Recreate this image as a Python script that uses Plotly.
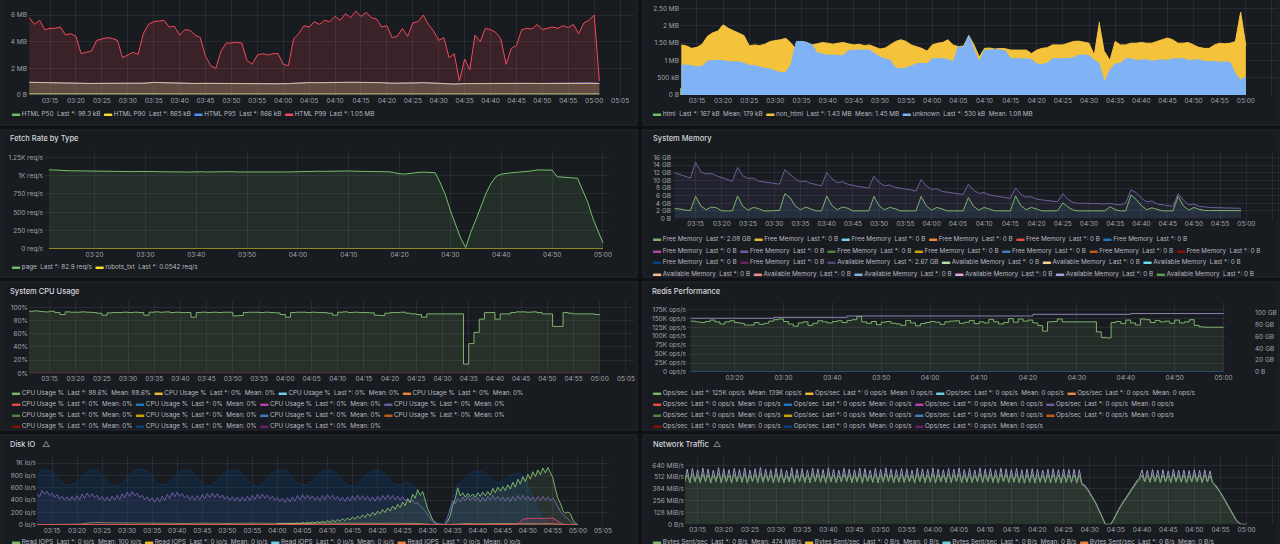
import numpy as np
import pandas as pd
import plotly.graph_objects as go

W, H = 1280, 544
DAY = "2024-05-14 "

BG_PAGE = "#111217"
BG_PANEL = "#181b1f"
BORDER = "rgba(204,204,220,0.10)"
GRID = "rgba(204,204,220,0.09)"
TICK = "#a3a4ac"
LEGEND_TXT = "#b8b9c1"
TITLE = "#d6d7de"
FONT = "Inter, 'Noto Sans', sans-serif"

CLASSIC = ["#7EB26D", "#EAB839", "#6ED0E0", "#EF843C", "#E24D42", "#1F78C1",
           "#BA43A9", "#705DA0", "#508642", "#CCA300", "#447EBC", "#C15C17",
           "#890F02", "#0A437C", "#6D1F62", "#584477", "#B7DBAB", "#F4D598",
           "#70DBED", "#F9BA8F", "#F29191", "#82B5D8", "#E5A8E2", "#AEA2E0",
           "#629E51"]

# ---------------- HTML size percentiles (MB) ----------------
html_p99 = [5.8, 5.3, 5.6, 4.9, 5.0, 5.0, 5.1, 4.5, 4.6, 4.4,
            3.1, 3.2, 3.3, 4.1, 4.2, 4.3, 4.25, 4.1, 2.8, 3.0,
            3.2, 3.05, 4.6, 5.3, 5.5, 5.55, 5.6, 5.1, 5.15, 4.5,
            4.9, 4.85, 4.5, 4.3, 2.9, 2.2, 2.0, 3.3, 3.9, 3.9,
            3.95, 3.9, 2.6, 2.3, 3.0, 3.1, 3.0, 3.1, 3.1, 2.3,
            2.2, 4.2, 4.6, 5.2, 5.1, 5.5, 5.3, 5.6, 5.5, 5.9,
            5.6, 6.1, 5.8, 6.3, 5.9, 6.2, 5.8, 5.7, 5.1, 5.2,
            4.3, 4.4, 5.0, 4.4, 5.4, 5.5, 6.0, 5.3, 4.8, 4.1,
            4.3, 2.8, 3.1, 1.05, 2.7, 1.9, 4.5, 4.0, 5.0, 4.9,
            4.7, 4.2, 2.3, 3.5, 3.7, 4.9, 5.0, 4.95, 5.3, 4.9,
            5.0, 5.1, 5.0, 5.2, 5.05, 5.3, 4.6, 5.4, 5.6, 6.0, 1.05]
html_p90 = [0.95, 0.93, 0.90, 0.88, 0.87, 0.87, 0.86, 0.87, 0.87, 0.86,
            0.87, 0.88, 0.94, 0.92, 0.87, 0.86, 0.86, 0.87, 0.86, 0.86,
            0.87, 0.85, 0.86, 0.86, 0.84, 0.85, 0.90, 0.93, 0.92, 0.94,
            0.95, 0.95, 0.94, 0.95, 0.92, 0.88, 0.87, 0.90, 0.92, 0.87,
            0.86, 0.82, 0.85, 0.86, 0.86, 0.87, 0.86, 0.86, 0.87, 0.86,
            0.87, 0.86, 0.86, 0.87, 0.90, 0.865]
html_p95 = [0.96, 0.94, 0.91, 0.89, 0.88, 0.87, 0.87, 0.88, 0.87, 0.87,
            0.88, 0.89, 0.95, 0.93, 0.88, 0.87, 0.87, 0.88, 0.87, 0.87,
            0.88, 0.86, 0.87, 0.87, 0.85, 0.86, 0.91, 0.94, 0.93, 0.95,
            0.96, 0.96, 0.95, 0.96, 0.93, 0.89, 0.88, 0.91, 0.93, 0.88,
            0.87, 0.83, 0.86, 0.87, 0.87, 0.88, 0.87, 0.87, 0.88, 0.87,
            0.88, 0.87, 0.87, 0.88, 0.91, 0.866]
html_p50 = [0.10, 0.102, 0.099, 0.101, 0.10, 0.098, 0.10, 0.101, 0.097, 0.099, 0.10, 0.098]

# ---------------- bytes by content type (MB) ----------------
bytes_non_html = [1.45, 1.42, 1.35, 1.38, 1.47, 1.7, 1.8, 1.85, 2.03, 1.93,
                  1.86, 1.8, 1.72, 1.42, 1.45, 1.43, 1.47, 1.55, 1.57, 1.6,
                  1.64, 1.5, 1.32, 1.55, 1.52, 1.45, 1.48, 1.52, 1.5, 1.47,
                  1.5, 1.52, 1.48, 1.45, 1.47, 1.43, 1.45, 1.38, 1.33, 1.36,
                  1.45, 1.55, 1.6, 1.55, 1.45, 1.4, 1.35, 1.27, 1.45, 1.5,
                  1.52, 1.6, 1.45, 1.4, 1.42, 1.72, 1.45, 1.1, 1.35, 1.36,
                  1.33, 1.35, 1.34, 1.3, 1.3, 1.28, 1.3, 1.2, 1.3, 1.35,
                  1.37, 1.45, 1.46, 1.45, 1.5, 1.55, 1.56, 1.52, 1.5, 1.15,
                  2.12, 1.25, 1.0, 1.55, 1.45, 1.45, 1.5, 1.5, 1.52, 1.5,
                  1.5, 1.55, 1.6, 1.65, 1.6, 1.5, 1.5, 1.52, 1.45, 1.38,
                  1.35, 1.35, 1.45, 1.5, 1.48, 1.5, 1.55, 2.4, 1.43]
bytes_unknown = [0.86, 0.87, 0.84, 0.82, 0.83, 0.98, 1.0, 0.99, 1.0, 0.96,
                 0.95, 0.96, 0.92, 0.86, 0.85, 0.8, 0.77, 0.75, 0.7, 0.64,
                 0.66, 0.88, 1.55, 1.55, 1.52, 1.45, 1.22, 1.18, 1.15, 1.16,
                 1.14, 1.15, 1.28, 1.3, 1.3, 1.28, 1.3, 1.2, 1.1, 1.05,
                 1.0, 0.78, 0.76, 0.78, 0.85, 0.9, 0.92, 0.9, 1.05, 1.06,
                 1.05, 1.03, 0.96, 1.4, 1.38, 1.72, 1.3, 0.96, 1.3, 1.3,
                 1.32, 1.3, 1.28, 1.05, 1.06, 1.04, 1.05, 1.03, 0.9, 0.88,
                 0.92, 1.05, 1.04, 1.06, 1.05, 1.08, 1.15, 1.16, 1.14, 1.0,
                 0.92, 0.38, 0.72, 0.9, 0.92, 1.05, 1.05, 1.0, 1.0, 1.02,
                 0.98, 1.0, 1.02, 1.0, 1.05, 1.04, 1.06, 1.0, 1.0, 1.02,
                 0.98, 0.96, 0.97, 0.95, 0.96, 0.94, 0.62, 0.43, 0.53]
bytes_html = [0.18, 0.18, 0.19, 0.18, 0.17, 0.18, 0.18, 0.17, 0.18, 0.17, 0.17, 0.167]
bytes_gap = "04:32:30"

# ---------------- fetch rate (req/s) ----------------
fetch_page = [1080, 1075, 1070, 1068, 1067, 1066, 1065, 1062, 1060, 1058,
              1055, 1052, 1050, 1051, 1048, 1050, 1052, 1055, 1058, 1054,
              1052, 1055, 1053, 1050, 1052, 1054, 1051, 1049, 1052, 1055,
              1053, 1050, 1052, 1051, 1049, 1052, 1054, 1051, 1050, 1052,
              1049, 1051, 1053, 1050, 1048, 1049, 1047, 1050, 1052, 1055,
              1058, 1060, 1062, 1060, 1058, 1061, 1063, 1060, 1062, 1064,
              1061, 1059, 1062, 1060, 1058, 1056, 1055, 1052, 1040, 1025,
              1022, 1030, 1045, 1046, 1047, 1046, 1040, 900, 740, 520,
              330, 150, 20, 230, 400, 590, 760, 900, 990, 1020,
              1035, 1040, 1045, 1050, 1058, 1065, 1078, 1080, 1082, 1075,
              985, 978, 975, 972, 965, 800, 640, 420, 260, 83]
fetch_robots_t = ["03:11", "04:00", "05:00"]
fetch_robots = [0.05, 0.06, 0.0542]

# ---------------- system memory (GB) ----------------
mem_free = [2.6, 2.5, 2.2, 2.1, 5.8, 3.3, 2.3, 3.0, 2.8, 2.0,
            2.0, 2.0, 5.9, 3.2, 2.2, 2.9, 2.6, 2.0, 2.0, 2.0,
            2.1, 6.5, 5.5, 3.3, 2.3, 3.0, 2.6, 2.0, 2.0, 5.9,
            3.4, 2.3, 3.0, 2.7, 2.0, 2.0, 2.0, 2.0, 5.8, 3.3,
            2.3, 2.9, 2.6, 2.0, 2.0, 2.0, 2.0, 5.8, 3.3, 2.2,
            2.9, 2.5, 2.0, 2.0, 2.0, 2.0, 5.5, 3.2, 2.2, 2.9,
            2.5, 2.0, 2.0, 2.0, 2.0, 5.9, 3.4, 2.3, 2.9, 2.5,
            2.0, 2.0, 2.0, 2.0, 4.1, 3.0, 2.2, 2.0, 2.0, 2.0,
            2.0, 2.0, 2.0, 3.1, 2.3, 2.0, 2.0, 6.2, 5.0, 3.4,
            2.3, 2.8, 2.3, 2.0, 2.0, 2.0, 5.8, 3.3, 2.2, 2.9,
            2.4, 2.1, 2.08, 2.08, 2.08, 2.08, 2.08, 2.08, 2.08]
mem_avail = [12.0, 11.6, 11.0, 10.6, 14.8, 12.2, 11.7, 11.8, 11.2, 10.8,
             10.2, 9.8, 13.4, 11.2, 10.5, 10.6, 9.8, 9.6, 9.4, 9.2,
             9.0, 12.8, 11.5, 10.4, 9.6, 9.8, 9.2, 8.8, 8.6, 12.0,
             10.4, 9.4, 9.6, 9.0, 8.6, 8.4, 8.2, 8.0, 11.1, 9.4,
             8.6, 8.8, 8.2, 7.9, 7.7, 7.5, 7.2, 10.2, 8.5, 7.6,
             7.8, 7.1, 6.9, 6.7, 6.5, 6.3, 9.0, 7.4, 6.6, 6.8,
             6.2, 5.9, 5.7, 5.5, 5.3, 8.0, 6.4, 5.6, 5.7, 5.1,
             4.9, 4.7, 4.5, 4.4, 6.5, 5.0, 4.2, 4.0, 4.0, 4.0,
             4.0, 3.9, 3.8, 4.0, 3.7, 3.6, 4.0, 7.5, 6.8, 5.3,
             4.4, 4.6, 3.8, 3.6, 3.4, 3.2, 6.5, 4.8, 3.6, 3.8,
             3.2, 3.0, 2.9, 2.85, 2.8, 2.75, 2.7, 2.7, 2.67]

# ---------------- CPU usage (%) ----------------
cpu_usage = [94, 94.5, 93.5, 93, 94, 92, 89, 93, 92.5, 92.5,
             93, 92.5, 92, 91, 88, 91.5, 92, 92, 92.5, 92,
             92.5, 92, 88, 92.5, 93, 92.5, 93, 92, 92.5, 92,
             92, 85, 92, 92.5, 92, 92.5, 92, 92.5, 92.5, 87,
             87.5, 92, 92.5, 92.5, 92, 92.5, 92, 91.5, 89, 85,
             92, 92.5, 92.5, 92, 92.5, 92, 92, 91, 88, 92.5,
             93, 92, 92.5, 92, 92, 91.5, 88, 87.5, 91, 92,
             92, 92.5, 91, 90, 89, 85, 90, 90, 90, 90,
             90, 90, 90, 14, 45, 62, 82, 92, 92, 82,
             90, 90, 92, 93, 93, 92.5, 93, 92, 90, 90,
             71, 71, 92, 91, 90, 90, 90, 90, 89, 88.6]

# ---------------- redis (K ops/s, GB) ----------------
redis_ops = [142, 140, 138, 141, 145, 140, 134, 140, 143, 138,
             136, 131, 131, 138, 133, 136, 142, 146, 148, 141,
             134, 128, 137, 140, 130, 136, 143, 140, 137, 141,
             143, 138, 144, 146, 155, 140, 136, 141, 132, 139,
             141, 136, 134, 130, 144, 137, 129, 135, 138, 141,
             139, 133, 140, 142, 143, 136, 139, 144, 135, 140,
             137, 147, 140, 134, 138, 149, 139, 148, 142, 145,
             137, 130, 114, 140, 141, 148, 140, 140, 140, 140,
             140, 140, 140, 112, 96, 95, 138, 141, 135, 145,
             137, 131, 148, 146, 138, 144, 140, 142, 136, 145,
             137, 140, 146, 130, 126, 125, 125, 125, 125, 125]
redis_mem_t = ["03:11", "03:28", "03:43", "04:21", "04:41", "05:00"]
redis_mem = [90.6, 92.2, 94.4, 97.2, 98.5, 98.5]

# ---------------- disk IO (io/s), 30 s samples ----------------
disk_read = [510, 450, 560, 495, 545, 475, 515, 445, 490, 420,
             465, 400, 455, 390, 460, 395, 475, 405, 500, 430,
             515, 450, 505, 440, 480, 410, 460, 390, 455, 385,
             465, 400, 480, 410, 505, 435, 530, 460, 540, 470,
             515, 445, 480, 410, 455, 385, 440, 370, 445, 375,
             465, 395, 495, 425, 525, 455, 530, 460, 505, 435,
             480, 410, 465, 395, 475, 405, 490, 420, 505, 435,
             515, 445, 505, 435, 485, 415, 465, 395, 455, 385,
             450, 380, 455, 385, 465, 395, 480, 410, 495, 425,
             500, 430, 485, 415, 465, 395, 445, 375, 435, 365,
             440, 370, 455, 385, 475, 405, 490, 420, 485, 415,
             470, 400, 460, 390, 475, 405, 490, 420, 480, 410,
             460, 390, 450, 380, 455, 385, 470, 400, 480, 410,
             475, 405, 460, 390, 455, 385, 465, 395, 480, 410,
             485, 415, 475, 405, 465, 395, 460, 390, 430, 370,
             400, 340, 360, 300, 280, 220, 150, 90, 50, 30,
             20, 10, 10, 10, 120, 260, 390, 340, 430, 370,
             455, 385, 465, 395, 455, 385, 445, 375, 450, 380,
             465, 395, 475, 405, 465, 395, 455, 385, 450, 380,
             460, 390, 475, 405, 480, 410, 465, 395, 455, 385,
             460, 390, 465, 395, 455, 385, 440, 370, 280, 220,
             170, 130, 90, 60, 25, 10, 0]
disk_write = [25, 15, 25, 15, 30, 18, 30, 20, 35, 22,
              40, 25, 45, 28, 50, 32, 55, 36, 60, 40,
              70, 45, 80, 52, 90, 60, 100, 70, 115, 80,
              130, 90, 145, 105, 165, 120, 185, 140, 205, 160,
              225, 180, 250, 200, 275, 225, 305, 250, 335, 280,
              370, 310, 420, 360, 500, 430, 570, 480, 540, 380,
              260, 180, 80, 40, 15, 10, 10, 10, 60, 150,
              320, 420, 600, 470, 520, 450, 510, 455, 500, 445,
              520, 460, 530, 470, 540, 480, 590, 520, 610, 545,
              620, 555, 650, 580, 690, 610, 740, 660, 780, 700,
              820, 740, 860, 780, 890, 810, 920, 840, 930, 850,
              760, 580, 430, 350, 230, 190, 210, 180, 80, 30,
              0]
disk_queue = [820, 880, 890, 860, 760, 680, 640, 650, 700, 780,
              860, 890, 880, 800, 700, 640, 630, 680, 760, 850,
              890, 895, 870, 770, 680, 640, 660, 740, 830, 880,
              890, 860, 760, 670, 630, 650, 720, 810, 870, 890,
              880, 820, 720, 650, 630, 670, 750, 840, 880, 890,
              860, 770, 680, 640, 650, 720, 810, 870, 890, 880,
              820, 720, 650, 630, 670, 750, 830, 870, 880, 850,
              760, 680, 640, 660, 700, 650, 550, 400, 250, 100,
              30, 20, 150, 450, 650, 720, 800, 850, 870, 860,
              800, 720, 680, 700, 760, 820, 840, 800, 650, 450,
              250, 100, 30, 10, 0, 0, 0, 0, 0]
disk_other = [5, 5, 6, 6, 5, 6, 7, 8, 10, 15,
              30, 38, 40, 36, 35, 32, 30, 28, 30, 32,
              30, 28, 27, 30, 29, 28, 26, 30, 28, 27,
              25, 28, 30, 26, 27, 29, 28, 25, 27, 30,
              28, 26, 29, 27, 30, 28, 27, 26, 30, 35,
              32, 30, 28, 30, 27, 25, 30, 28, 27, 29,
              28, 26, 30, 29, 27, 28, 30, 26, 28, 27,
              29, 30, 28, 27, 30, 28, 25, 20, 10, 3,
              0, 0, 5, 15, 20, 22, 25, 20, 24, 22,
              20, 23, 22, 21, 24, 20, 22, 25, 21, 23,
              22, 20, 24, 20, 10, 5, 2, 0, 0]
disk_pink_t = ["03:12", "03:40", "04:10", "04:30", "04:33", "04:48", "04:49",
               "04:51", "04:53", "04:55", "04:56", "04:57", "05:00"]
disk_pink = [8, 9, 8, 6, 0, 7, 95, 110, 105, 112, 60, 10, 0]

# ---------------- network (MiB/s), 30 s samples ----------------
net_sent = [455, 598, 448, 606, 460, 592, 452, 612, 458, 600, 446, 588, 462, 615, 450, 603,
            457, 594, 449, 608, 461, 597, 453, 611, 447, 590, 459, 604, 451, 617, 456, 599,
            463, 593, 448, 609, 455, 601, 450, 587, 460, 613, 446, 596, 458, 605, 452, 591,
            449, 610, 461, 602, 454, 595, 447, 614, 459, 598, 451, 589, 456, 607, 462, 600,
            450, 593, 457, 611, 445, 604, 460, 590, 453, 608, 448, 597, 455, 612, 461, 599,
            449, 594, 456, 606, 452, 601, 458, 588, 447, 609, 460, 603, 451, 596, 455, 610,
            446, 600, 459, 592, 453, 607, 450, 598, 462, 611, 448, 595, 456, 604, 452, 590,
            457, 612, 449, 599, 460, 605, 454, 593, 447, 608, 458, 601, 451, 596, 455, 606,
            450, 592, 446, 600, 452, 604, 448, 596, 455, 590, 451, 598, 449, 602, 452, 594,
            448, 600, 453, 595, 450, 597, 446, 592,
            440, 425, 390, 345, 300, 250, 190, 130, 70, 0,
            0, 0,
            50, 110, 160, 210, 255, 300, 345, 390, 430, 470, 505,
            590, 460, 585, 455, 595, 462, 588, 450, 592, 458, 580, 452, 596, 460,
            587, 455, 590, 449, 583, 457, 594, 461, 586, 453, 591, 458, 580, 450,
            430, 390, 350, 300, 250, 200, 150, 100, 50, 20, 0,
            0, 0]
net_recv = [462, 538, 458, 545, 466, 532, 460, 548, 464, 540, 456, 530, 468, 550, 461, 542,
            465, 534, 459, 546, 467, 537, 462, 549, 457, 531, 466, 543, 460, 552, 463, 539,
            469, 535, 458, 547, 464, 540, 460, 529, 467, 550, 456, 536, 465, 544, 461, 532,
            459, 548, 467, 541, 462, 535, 457, 551, 466, 538, 460, 530, 463, 545, 468, 540,
            460, 534, 464, 549, 455, 543, 467, 531, 462, 546, 458, 537, 464, 550, 467, 539,
            459, 535, 463, 544, 461, 540, 465, 530, 457, 547, 467, 542, 460, 536, 464, 548,
            456, 540, 466, 533, 462, 545, 460, 538, 468, 549, 458, 535, 463, 543, 461, 531,
            464, 550, 459, 539, 467, 544, 462, 534, 457, 546, 465, 541, 460, 536, 463, 545,
            460, 533, 456, 540, 462, 543, 458, 536, 463, 531, 460, 538, 459, 541, 461, 535,
            458, 540, 462, 536, 460, 538, 455, 533,
            430, 415, 380, 335, 290, 240, 180, 120, 60, 0,
            0, 0,
            40, 100, 150, 200, 245, 290, 335, 380, 420, 455, 480,
            535, 462, 530, 458, 540, 465, 532, 455, 537, 461, 528, 457, 541, 463,
            533, 458, 536, 452, 529, 460, 539, 464, 531, 456, 536, 461, 527, 455,
            420, 380, 340, 290, 240, 190, 140, 90, 40, 10, 0,
            0, 0]

# ---------------- axis tick labels ----------------
p1_ticks = ["0 B", "2 MB", "4 MB", "6 MB"]
p2_ticks = ["0 B", "500 kB", "1 MB", "1.50 MB", "2 MB", "2.50 MB"]
p3_ticks = ["0 req/s", "250 req/s", "500 req/s", "750 req/s", "1K req/s", "1.25K req/s"]
p4_ticks = ["0 B", "2 GB", "4 GB", "6 GB", "8 GB", "10 GB", "12 GB", "14 GB", "16 GB"]
p5_ticks = ["0%", "20%", "40%", "60%", "80%", "100%"]
p6_ticks = ["0 ops/s", "25K ops/s", "50K ops/s", "75K ops/s", "100K ops/s",
            "125K ops/s", "150K ops/s", "175K ops/s"]
p6_rticks = ["0 B", "20 GB", "40 GB", "60 GB", "80 GB", "100 GB"]
p7_ticks = ["0 io/s", "200 io/s", "400 io/s", "600 io/s", "800 io/s", "1K io/s"]
p7_rticks = ["0 B/s", "16 MiB/s", "32 MiB/s", "48 MiB/s", "64 MiB/s", "80 MiB/s"]
p8_ticks = ["0 B/s", "128 MiB/s", "256 MiB/s", "384 MiB/s", "512 MiB/s", "640 MiB/s"]


def tl(start, n, step):
    return pd.date_range(DAY + start, periods=n, freq=step)


def tpts(lst):
    return [pd.Timestamp(DAY + s) for s in lst]


fig = go.Figure()


def add_line(x, y, color, n, fill=None, width=1, shape="linear", yref=None):
    s = "" if n == 1 else str(n)
    fig.add_trace(go.Scatter(
        x=x, y=y, mode="lines",
        line=dict(color=color, width=width, shape=shape),
        fill="tozeroy" if fill else None, fillcolor=fill,
        xaxis="x" + s, yaxis=yref or ("y" + s),
        showlegend=False, hoverinfo="skip"))


def set_axes(n, x0, x1, ytop, ybot, xr, yr, yvals, ytext, dtick_min):
    s = "" if n == 1 else str(n)
    tf = dict(size=6.5, color=TICK, family=FONT)
    fig.update_layout(**{
        "xaxis" + s: dict(domain=[x0 / W, x1 / W], anchor="y" + s, type="date",
                          range=[DAY + xr[0], DAY + xr[1]], dtick=dtick_min * 60000,
                          tickformat="%H:%M", showgrid=True, gridcolor=GRID,
                          zeroline=False, showline=False, ticks="", tickfont=tf,
                          automargin=False, fixedrange=True),
        "yaxis" + s: dict(domain=[1 - ybot / H, 1 - ytop / H], anchor="x" + s,
                          range=yr, tickvals=yvals, ticktext=ytext, showgrid=True,
                          gridcolor=GRID, zeroline=False, showline=False, ticks="",
                          tickfont=tf, automargin=False, fixedrange=True),
    })


# ---------- panel 1: HTML size ----------
set_axes(1, 28, 634, 0, 95, ("03:10:45", "05:07:41"), [0, 7.125],
         [0, 2, 4, 6], p1_ticks, 5)
add_line(tl("03:11", len(html_p50), "10min"), html_p50, "#73BF69", 1, "rgba(115,191,105,0.15)")
add_line(tl("03:11", len(html_p95), "2min"), html_p95, "#5794F2", 1, "rgba(87,148,242,0.16)")
add_line(tl("03:11", len(html_p90), "2min"), html_p90, "rgba(240,220,160,0.8)", 1, "rgba(250,222,42,0.17)")
add_line(tl("03:11", len(html_p99), "1min"), html_p99, "#F2495C", 1, "rgba(242,73,92,0.16)")

# ---------- panel 2: bytes by type ----------
set_axes(2, 680, 1278, 0, 95, ("03:11:45", "05:06:09"), [0, 2.75],
         [0, 0.5, 1, 1.5, 2, 2.5], p2_ticks, 5)
gap_t = pd.Timestamp(DAY + bytes_gap)
nh = pd.Series(bytes_non_html, index=tl("03:12", len(bytes_non_html), "1min"))
nh[gap_t] = np.nan
nh = nh.sort_index()
uk = pd.Series(bytes_unknown, index=tl("03:12", len(bytes_unknown), "1min"))
uk[gap_t] = np.nan
uk = uk.sort_index()
add_line(tl("03:10", len(bytes_html), "10min"), bytes_html, "#73BF69", 2, "#73BF69")
add_line(nh.index, nh.values, "#F5C33B", 2, "#F5C33B")
add_line(uk.index, uk.values, "#80B2F6", 2, "#80B2F6")

# ---------- panel 3: fetch rate ----------
set_axes(3, 44, 609, 151, 249, ("03:10:03", "05:01:11"), [0, 1336],
         [0, 250, 500, 750, 1000, 1250], p3_ticks, 10)
add_line(tl("03:11", len(fetch_page), "1min"), fetch_page, "#73BF69", 3, "rgba(115,191,105,0.12)")
add_line(tpts(fetch_robots_t), fetch_robots, "#FADE2A", 3)

# ---------- panel 4: memory ----------
set_axes(4, 672, 1278, 152, 218.5, ("03:10:30", "05:06:02"), [0, 17.44],
         [0, 2, 4, 6, 8, 10, 12, 14, 16], p4_ticks, 5)
add_line(tl("03:11", len(mem_avail), "1min"), mem_avail, "#6E5F98", 4, "rgba(90,80,140,0.14)")
add_line(tl("03:11", len(mem_free), "1min"), mem_free, "#7EB26D", 4, "rgba(70,120,150,0.16)")

# ---------- panel 5: CPU ----------
set_axes(5, 29, 634, 301, 373.3, ("03:11:06", "05:06:32"), [0, 109.5],
         [0, 20, 40, 60, 80, 100], p5_ticks, 5)
add_line(tl("03:11", len(cpu_usage), "1min"), cpu_usage, "#7EB26D", 5,
         "rgba(126,178,109,0.15)", shape="hv")
add_line(tpts(["03:11", "05:00"]), [0, 0], "#8a2a7a", 5)

# ---------- panel 6: redis ----------
set_axes(6, 687, 1226, 302, 372, ("03:10:16", "05:00:30"), [0, 195.4],
         [0, 25, 50, 75, 100, 125, 150, 175], p6_ticks, 10)
fig.update_layout(yaxis9=dict(overlaying="y6", side="right", anchor="free",
                              position=1254 / W, range=[0, 118],
                              tickvals=[0, 20, 40, 60, 80, 100], ticktext=p6_rticks,
                              showgrid=False, zeroline=False, showline=False, ticks="",
                              tickfont=dict(size=6.5, color=TICK, family=FONT),
                              automargin=False, fixedrange=True))
add_line(tl("03:11", len(redis_ops), "1min"), redis_ops, "#7EB26D", 6,
         "rgba(126,178,109,0.11)", shape="hv")
add_line(tpts(redis_mem_t), redis_mem, "#8C82B4", 6, shape="hv", yref="y9")
add_line(tpts(["03:11", "05:00"]), [0, 0], "#2a6fb8", 6)

# ---------- panel 7: disk IO ----------
set_axes(7, 37, 609, 457, 525, ("03:12:00", "05:06:12"), [0, 1097],
         [0, 200, 400, 600, 800, 1000], p7_ticks, 5)
fig.update_layout(yaxis10=dict(overlaying="y7", side="right", anchor="x7",
                               range=[0, 95], tickvals=[0, 16, 32, 48, 64, 80],
                               ticktext=p7_rticks, showgrid=False, zeroline=False,
                               showline=False, ticks="",
                               tickfont=dict(size=6.5, color=TICK, family=FONT),
                               automargin=False, fixedrange=True))
add_line(tl("03:12", len(disk_queue), "1min"), disk_queue, "rgba(16,60,115,0.55)", 7,
         "rgba(14,58,112,0.30)")
add_line(tl("03:12", len(disk_read), "30s"), disk_read, "#6E5A9E", 7, "rgba(110,90,158,0.10)")
add_line(tl("04:00", len(disk_write), "30s"), disk_write, "#7EB26D", 7, "rgba(126,178,109,0.12)")
add_line(tl("03:12", len(disk_other), "1min"), disk_other, "rgba(234,200,120,0.55)", 7)
add_line(tpts(disk_pink_t), disk_pink, "#C8456A", 7, "rgba(200,69,106,0.15)")
add_line(tpts(["03:12", "05:00"]), [0, 0], "#D8703A", 7)

# ---------- panel 8: network ----------
set_axes(8, 685, 1278, 457, 524.3, ("03:12:35", "05:06:00"), [0, 730],
         [0, 128, 256, 384, 512, 640], p8_ticks, 5)
add_line(tl("03:12:30", len(net_sent), "30s"), net_sent, "#9E98C6", 8, "rgba(160,152,200,0.04)")
add_line(tl("03:12:30", len(net_recv), "30s"), net_recv, "#6FA062", 8, "rgba(126,178,109,0.15)")

# ---------- panels (background cards) ----------
cards = [(1, -10, 637, 125), (643, -10, 1279, 125),
         (1, 130, 637, 277), (643, 130, 1279, 277),
         (1, 282, 637, 430), (643, 282, 1279, 430),
         (1, 435, 637, 560), (643, 435, 1279, 560)]
for x0, y0, x1, y1 in cards:
    fig.add_shape(type="rect", xref="paper", yref="paper", layer="below",
                  x0=x0 / W, x1=x1 / W, y0=1 - y1 / H, y1=1 - y0 / H,
                  fillcolor=BG_PANEL, line=dict(color=BORDER, width=1))


# ---------- titles ----------
def title(x, y, text, size=7.5, color=TITLE):
    fig.add_annotation(x=x / W, y=1 - y / H, xref="paper", yref="paper",
                       xanchor="left", yanchor="middle", showarrow=False, text=text,
                       font=dict(size=size, color=color, family=FONT, weight=500))


title(8, 138, "Fetch Rate by Type")
title(651, 138, "System Memory")
title(8, 291, "System CPU Usage")
title(650, 291, "Redis Performance")
title(8, 444, "Disk IO")
title(40, 444, "△", size=8, color="#8e8f97")
title(651, 444, "Network Traffic")
title(711, 444, "△", size=8, color="#8e8f97")


# ---------- legends ----------
def legend_row(x, y, items):
    parts = [f'<span style="color:{c};font-size:8px">▬</span> {t}' for c, t in items]
    fig.add_annotation(x=x / W, y=1 - y / H, xref="paper", yref="paper",
                       xanchor="left", yanchor="middle", showarrow=False, align="left",
                       text="&nbsp;&nbsp;".join(parts),
                       font=dict(size=6.3, color=LEGEND_TXT, family=FONT))


def item(name, last, mean=None):
    s = f"{name}&nbsp;&nbsp;Last *: {last}"
    if mean is not None:
        s += f"&nbsp;&nbsp;Mean: {mean}"
    return s


legend_row(10, 113, [("#73BF69", item("HTML P50", "98.3 kB")),
                     ("#FADE2A", item("HTML P90", "865 kB")),
                     ("#5794F2", item("HTML P95", "866 kB")),
                     ("#F2495C", item("HTML P99", "1.05 MB"))])
legend_row(651, 113, [("#73BF69", item("html", "167 kB", "179 kB")),
                      ("#F5C33B", item("non_html", "1.43 MB", "1.45 MB")),
                      ("#80B2F6", item("unknown", "530 kB", "1.08 MB"))])
legend_row(10, 266, [("#73BF69", item("page", "82.9 req/s")),
                     ("#FADE2A", item("robots_txt", "0.0542 req/s"))])

mem_items = []
for i in range(15):
    mem_items.append((CLASSIC[i], item("Free Memory", "2.08 GB" if i == 0 else "0 B")))
for i in range(15, 25):
    mem_items.append((CLASSIC[i], item("Available Memory", "2.67 GB" if i == 15 else "0 B")))
mem_rows = [mem_items[0:6], mem_items[6:13], mem_items[13:19], mem_items[19:25]]
for r, y in zip(mem_rows, [238, 250, 261, 273]):
    legend_row(651, y, r)

cpu_items = [(CLASSIC[i], item("CPU Usage %", "88.6%" if i == 0 else "0%",
                               "88.6%" if i == 0 else "0%")) for i in range(15)]
ops_items = [(CLASSIC[i], item("Ops/sec", "125K ops/s" if i == 0 else "0 ops/s",
                               "139K ops/s" if i == 0 else "0 ops/s")) for i in range(15)]
for k, y in enumerate([392, 403, 414, 425]):
    legend_row(10, y, cpu_items[k * 4:k * 4 + 4])
    legend_row(651, y, ops_items[k * 4:k * 4 + 4])

legend_row(10, 541, [(CLASSIC[i], item("Read IOPS", "0 io/s", "100 io/s" if i == 0 else "0 io/s"))
                     for i in range(4)])
legend_row(651, 541, [(CLASSIC[i], item("Bytes Sent/sec", "0 B/s", "474 MiB/s" if i == 0 else "0 B/s"))
                      for i in range(4)])

fig.update_layout(width=W, height=H, margin=dict(l=0, r=0, t=0, b=0),
                  paper_bgcolor=BG_PAGE, plot_bgcolor="rgba(0,0,0,0)",
                  showlegend=False, font=dict(family=FONT))

fig.write_html("out.html", config={"displayModeBar": False},
               post_script="document.body.style.margin='0';document.body.style.background='#111217';")
